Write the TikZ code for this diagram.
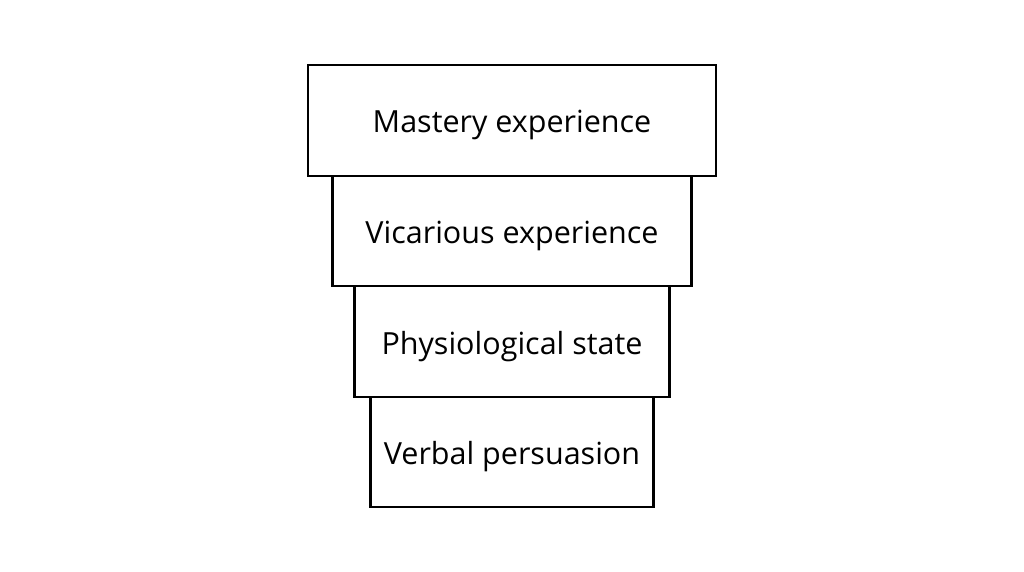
\documentclass[tikz,border=0pt]{standalone}
\usepackage{fontspec}
\setmainfont{Open Sans}
\usepackage{tikz}
\usetikzlibrary{positioning}

\begin{document}
\begin{tikzpicture}[x=1pt,y=-1pt]
\tikzstyle{every node}+=[inner sep=0pt]
\tikzstyle{level}=[draw=black,line width=2.3pt,outer sep=0pt,fill=white,text height=32pt,text depth=7pt,font=\fontsize{30.5}{33}\selectfont]
\useasboundingbox (0,0) rectangle (1024,572);
\node [level,minimum width=408pt,minimum height=111pt] (mastery) at (512,120.5) {Mastery experience};
\node [level,minimum width=359pt,minimum height=110pt,below=0pt of mastery] (vicarious) {Vicarious experience};
\node [level,minimum width=315pt,minimum height=111pt,below=0pt of vicarious] (physio) {Physiological state};
\node [level,minimum width=283pt,minimum height=110pt,below=0pt of physio] (verbal) {Verbal persuasion};
\end{tikzpicture}
\end{document}
